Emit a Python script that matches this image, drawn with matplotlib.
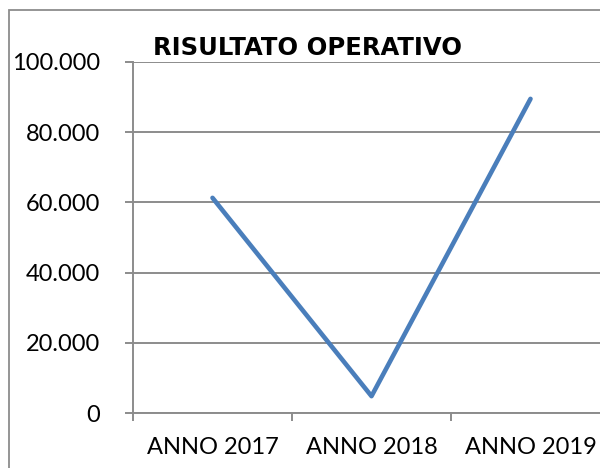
import matplotlib
matplotlib.use("Agg")
import matplotlib.pyplot as plt
from matplotlib.patches import Rectangle
from matplotlib.ticker import FuncFormatter

# data
years = ["ANNO 2017", "ANNO 2018", "ANNO 2019"]
risultato = [61300, 4800, 89500]
y_ticks = [0, 20000, 40000, 60000, 80000, 100000]

GRID = "#8c8c8c"
LINE = "#4a7ebb"

plt.rcParams["font.family"] = ["Lato", "DejaVu Sans"]

fig = plt.figure(figsize=(6.0, 4.68), dpi=100)
fig.patch.set_facecolor("white")

# outer chart border (cropped on right and bottom)
fig.patches.append(Rectangle((9 / 600, -0.1), 1.2, 1 - 10 / 468 + 0.1,
                             transform=fig.transFigure, fill=False,
                             edgecolor=GRID, linewidth=1.3))

ax = fig.add_axes([133 / 600, 55 / 468, 477 / 600, 351 / 468])
x = list(range(len(years)))
ax.plot(x, risultato, color=LINE, linewidth=3.3, solid_capstyle="round",
        solid_joinstyle="round", zorder=3, clip_on=False)

ax.set_xlim(-0.5, 2.5)
ax.set_ylim(0, 100000)
ax.set_yticks(y_ticks)
ax.yaxis.set_major_formatter(FuncFormatter(lambda v, p: f"{int(v):,}".replace(",", ".")))
ax.set_xticks(x)
ax.set_xticklabels(years)
ax.set_xticks([-0.5, 0.5, 1.5], minor=True)

ax.grid(axis="y", color=GRID, linewidth=1.4)
ax.set_axisbelow(True)
for s in ["top", "right"]:
    ax.spines[s].set_visible(False)
for s in ["left", "bottom"]:
    ax.spines[s].set_color(GRID)
    ax.spines[s].set_linewidth(1.4)

ax.tick_params(axis="y", length=6, width=1.4, color=GRID, labelsize=17, pad=18,
               labelcolor="black", direction="out")
ax.tick_params(axis="x", which="major", length=0, labelsize=17, pad=17,
               labelcolor="black")
ax.tick_params(axis="x", which="minor", length=6, width=1.4, color=GRID,
               direction="out")

fig.text(153 / 600, 1 - 48 / 468, "RISULTATO OPERATIVO", ha="left", va="center",
         fontsize=17.5, fontweight="bold", color="black",
         family=["DejaVu Sans"])

fig.savefig("out.png", dpi=100, facecolor="white")
